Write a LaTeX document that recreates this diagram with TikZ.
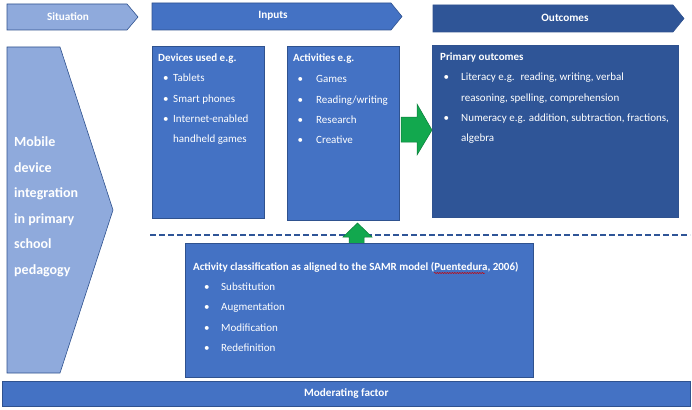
\documentclass[tikz,border=0pt]{standalone}
\usepackage{fontspec}
\setmainfont{Carlito}
\usetikzlibrary{decorations.pathmorphing}
\definecolor{lightb}{HTML}{8FAADC}
\definecolor{midb}{HTML}{4472C4}
\definecolor{darkb}{HTML}{2F5597}
\definecolor{edgeb}{HTML}{2F528F}
\definecolor{arrowg}{HTML}{12A84E}
\definecolor{arrowgd}{HTML}{0B7D3B}
\begin{document}
\begin{tikzpicture}[x=1pt,y=-1pt,
  chev/.style={draw=edgeb, line width=0.6pt},
  box/.style={draw=edgeb, line width=0.6pt, fill=midb, anchor=north west, inner sep=0pt},
  hdr/.style={text=white, inner sep=0pt, font=\bfseries\fontsize{11.2}{13}\selectfont},
  txt/.style={text=white, inner sep=0pt, anchor=base west},
  ttl/.style={txt, font=\bfseries\fontsize{11}{13}\selectfont},
  lst/.style={txt, font=\fontsize{11}{20.3}\selectfont},
  garrow/.style={fill=arrowg, draw=arrowgd, line width=0.5pt}
]
\useasboundingbox (0,0) rectangle (692,409);

% header chevrons
\filldraw[chev, fill=lightb] (7,4) -- (127,4) -- (138,17) -- (127,30) -- (7,30) -- cycle;
\node[hdr] (hsit) at (68,17) {Situation};
\filldraw[chev, fill=midb] (152,3) -- (391,3) -- (402,16.5) -- (391,30) -- (152,30) -- cycle;
\node[hdr] (hin) at (273,16) {Inputs};
\filldraw[chev, fill=darkb] (433,5) -- (673,5) -- (684,18.5) -- (673,32) -- (433,32) -- cycle;
\node[hdr] (hout) at (565,18) {Outcomes};

% left big chevron
\filldraw[chev, fill=lightb] (7,47) -- (60,47) -- (113,210) -- (60,373) -- (7,373) -- cycle;
\node[txt, font=\bfseries\fontsize{14}{25.6}\selectfont] (sit) at (14,146.5)
  {\begin{tabular}[t]{@{}l@{}}Mobile\\device\\integration\\in primary\\school\\pedagogy\end{tabular}};

% devices box
\node[box, minimum width=112pt, minimum height=172pt] (dev) at (152,46) {};
\node[ttl] (devt) at (158,62) {Devices used e.g.};
\node[lst] (devl) at (163,82)
  {\begin{tabular}[t]{@{}p{10pt}@{}l@{}}•&Tablets\\•&Smart phones\\•&Internet-enabled\\&handheld games\end{tabular}};

% activities box
\node[box, minimum width=112pt, minimum height=174pt] (act) at (287,46) {};
\node[ttl] (actt) at (293,62) {Activities e.g.};
\node[lst] (actl) at (297.5,83)
  {\begin{tabular}[t]{@{}p{18.5pt}@{}l@{}}•&Games\\•&Reading/writing\\•&Research\\•&Creative\end{tabular}};

% outcomes box
\node[box, fill=darkb, minimum width=246pt, minimum height=172pt] (out) at (432,45) {};
\node[ttl] (outt) at (440,61) {Primary outcomes};
\node[lst] (outl) at (443.5,81)
  {\begin{tabular}[t]{@{}p{17.5pt}@{}l@{}}•&Literacy e.g.~ reading, writing, verbal\\&reasoning, spelling, comprehension\\•&Numeracy e.g. addition, subtraction, fractions,\\&algebra\end{tabular}};

% green right arrow
\filldraw[garrow] (401,117) -- (417,117) -- (417,104) -- (432,130) -- (417,155) -- (417,142) -- (401,142) -- cycle;

% dashed divider
\coordinate (dl) at (150,235);
\coordinate (dr) at (690,235);
\draw[darkb, line width=1.2pt, dash pattern=on 6pt off 3pt] (dl) -- (dr);

% green up arrow
\filldraw[garrow] (349,244) -- (349,237) -- (343,237) -- (357.5,223) -- (372,237) -- (364,237) -- (364,244) -- cycle;

% SAMR box
\node[box, minimum width=348pt, minimum height=134pt] (samr) at (185,243) {};
\node[ttl] (samrt) at (193,270) {Activity classification as aligned to the SAMR model (Puentedura, 2006)};
\draw[red!80!black, line width=0.5pt, decorate, decoration={snake, amplitude=0.6pt, segment length=2.5pt}]
  (434,273) -- (485,273);
\node[lst, font=\fontsize{11}{20.6}\selectfont] (samrl) at (204,290)
  {\begin{tabular}[t]{@{}p{17pt}@{}l@{}}•&Substitution\\•&Augmentation\\•&Modification\\•&Redefinition\end{tabular}};

% moderating factor bar
\node[box, minimum width=688pt, minimum height=25pt] (mod) at (2,381) {};
\node[hdr] (modt) at (mod.center) {Moderating factor};
\end{tikzpicture}
\end{document}
